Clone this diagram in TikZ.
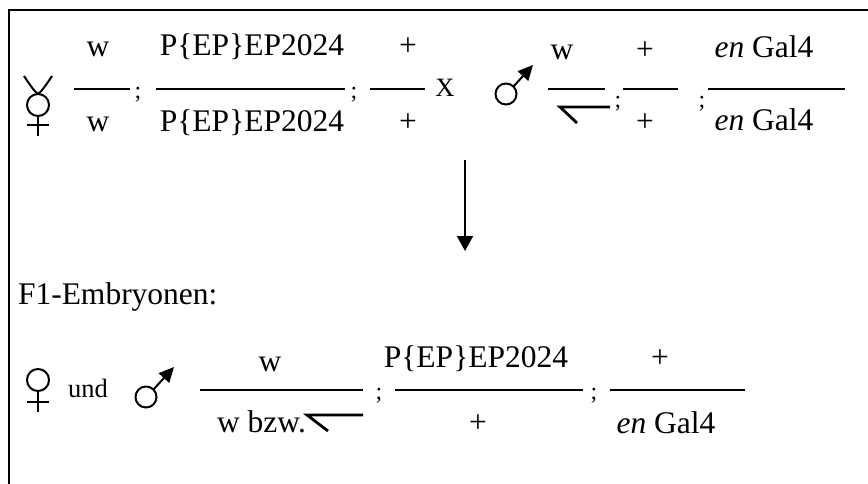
\documentclass[tikz,border=0pt]{standalone}
\usepackage{fontspec}
\setmainfont{Liberation Serif}
\usetikzlibrary{arrows.meta}
\tikzset{
  txt/.style={anchor=base, inner sep=0pt, outer sep=0pt, font=\fontsize{31.5}{36}\selectfont},
  smalltxt/.style={anchor=base, inner sep=0pt, outer sep=0pt, font=\fontsize{26.5}{30}\selectfont},
  semi/.style={anchor=base, inner sep=0pt, outer sep=0pt, font=\fontsize{24}{28}\selectfont},
  fbar/.style={line width=1.3pt},
  frame/.style={line width=2.6pt},
  sym/.style={line width=2pt},
  ychrom/.style={line width=2.8pt},
  malearrow/.style={line width=2pt, -{Triangle[length=15pt,width=14pt]}},
  flow/.style={line width=1.8pt, -{Triangle[length=15pt,width=16pt]}}
}
\begin{document}
\begin{tikzpicture}[x=1pt,y=-1pt]
\useasboundingbox (0,0) rectangle (868,484);
% frame (top and left edges)
\draw[frame] (9,484) -- (9,10) -- (868,10);

% ---------- row 1 ----------
% hermaphrodite symbol
\draw[sym] (38,105) circle (11);
\draw[sym] (24,76) .. controls (30,85) and (34,91) .. (38,94);
\draw[sym] (52,76) .. controls (46,85) and (42,91) .. (38,94);
\draw[sym] (38,116) -- (38,136);
\draw[sym] (27,125) -- (49,125);

% fraction 1
\node[txt] (n1) at (98,57) {w};
\draw[fbar] (74,89) -- (130,89);
\node[txt] (d1) at (98,132) {w};
\node[semi] (s1) at (138,99) {;};
% fraction 2
\node[txt] (n2) at (252,56) {P\{EP\}EP2024};
\draw[fbar] (156,89) -- (345,89);
\node[txt] (d2) at (252,132) {P\{EP\}EP2024};
\node[semi] (s2) at (354,99) {;};
% fraction 3
\node[txt] (n3) at (408,56) {+};
\draw[fbar] (370,89) -- (425,89);
\node[txt] (d3) at (408,132) {+};
% X
\node[smalltxt] (x) at (445,97) {X};
% male symbol
\draw[sym] (506,94) circle (10.5);
\coordinate (m1s) at (513.4,86.6);
\coordinate (m1t) at (533,65);
\draw[malearrow] (m1s) -- (m1t);
% fraction 4
\node[txt] (n4) at (562,60) {w};
\draw[fbar] (548,89) -- (605,89);
\draw[ychrom] (610,107) -- (560,107) -- (577,123);
\node[semi] (s3) at (618,108) {;};
% fraction 5
\node[txt] (n5) at (645,60) {+};
\draw[fbar] (623,89) -- (678,89);
\node[txt] (d5) at (645,132) {+};
\node[semi] (s4) at (702,108) {;};
% fraction 6
\node[txt] (n6) at (764,58) {\textit{en} Gal4};
\draw[fbar] (708,89) -- (845,89);
\node[txt] (d6) at (764,131) {\textit{en} Gal4};

% ---------- arrow ----------
\coordinate (atop) at (465,160);
\coordinate (abot) at (465,251);
\draw[flow] (atop) -- (abot);

% ---------- row 2 ----------
\node[txt, anchor=base west] (f1) at (18,304) {F1-Embryonen:};

% ---------- row 3 ----------
% female symbol
\draw[sym] (38,380) circle (11);
\draw[sym] (38,391) -- (38,412);
\draw[sym] (27,402) -- (49,402);
\node[smalltxt] (und) at (88,397) {und};
% male symbol
\draw[sym] (146,397) circle (10.5);
\coordinate (m2s) at (153.4,389.6);
\coordinate (m2t) at (174,367);
\draw[malearrow] (m2s) -- (m2t);
% fraction A
\node[txt] (na) at (270,371) {w};
\draw[fbar] (200,390) -- (363,390);
\node[txt, anchor=base west] (da) at (217,432) {w bzw.};
\draw[ychrom] (363,415) -- (307,415) -- (328,431);
\node[semi] (sa) at (379,399) {;};
% fraction B
\node[txt] (nb) at (476,367) {P\{EP\}EP2024};
\draw[fbar] (395,390) -- (583,390);
\node[txt] (db) at (478,432) {+};
\node[semi] (sb) at (594,399) {;};
% fraction C
\node[txt] (nc) at (660,367) {+};
\draw[fbar] (610,390) -- (745,390);
\node[txt] (dc) at (666,433) {\textit{en} Gal4};
\end{tikzpicture}
\end{document}
